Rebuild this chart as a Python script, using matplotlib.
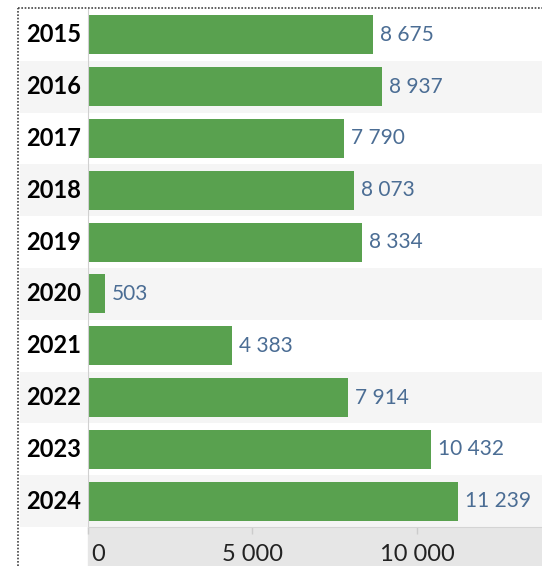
import matplotlib.pyplot as plt
from matplotlib.lines import Line2D
from matplotlib.patches import Rectangle
from matplotlib.transforms import ScaledTranslation

years = ["2015", "2016", "2017", "2018", "2019", "2020", "2021", "2022", "2023", "2024"]
counts = [8675, 8937, 7790, 8073, 8334, 503, 4383, 7914, 10432, 11239]
tick_values = [0, 5000, 10000]


def fmt(v):
    # thousands separated by a space, like the original
    return f"{v:,}".replace(",", " ")


plt.rcParams['font.family'] = ['Lato', 'DejaVu Sans']

W, H = 542, 566
top, bottom = 9, 527
left, label_left = 88, 20
n = len(years)

fig = plt.figure(figsize=(W / 100, H / 100), dpi=100)
ax = fig.add_axes([left / W, (H - bottom) / H, (W - left) / W, (bottom - top) / H])
lab = fig.add_axes([label_left / W, (H - bottom) / H, (left - label_left) / W, (bottom - top) / H])

# grey strip behind the x axis (under the tick labels)
fig.patches.append(Rectangle((left / W, 0), (W - left) / W, (H - bottom) / H,
                             transform=fig.transFigure, color="#e6e6e6", zorder=-1))

# alternating row bands
for i in range(n):
    if i % 2 == 1:
        ax.axhspan(i - 0.5, i + 0.5, color="#f5f5f5", zorder=0, lw=0)
        lab.axhspan(i - 0.5, i + 0.5, color="#f5f5f5", zorder=0, lw=0)

ax.barh(range(n), counts, height=0.75, color="#59a14f", zorder=2)
for i, v in enumerate(counts):
    ax.annotate(fmt(v), (v, i), xytext=(7, 0), textcoords="offset pixels",
                va="center", ha="left", fontsize=15, color="#4b6d94")

ax.set_ylim(n - 0.5, -0.5)
ax.set_xlim(0, 13800)
ax.set_yticks([])
ax.set_xticks(tick_values)
ax.set_xticklabels([fmt(t) for t in tick_values])
ax.tick_params(axis="x", length=5, width=1, color="#cccccc", labelsize=17,
               labelcolor="#222222", pad=7)
first = ax.xaxis.get_major_ticks()[0].label1
first.set_horizontalalignment("left")
first.set_transform(first.get_transform() + ScaledTranslation(3 / 100, 0, fig.dpi_scale_trans))

ax.spines["top"].set_visible(False)
ax.spines["right"].set_visible(False)
ax.spines["left"].set_color("#d0d0d0")
ax.spines["bottom"].set_color("#d4d4d4")

lab.set_xlim(0, left - label_left)
lab.set_ylim(n - 0.5, -0.5)
lab.axis("off")
for i, y in enumerate(years):
    lab.text(6, i, y, va="center", ha="left", fontsize=17, fontweight="bold", color="black")

# dotted frame at top and left
fig.add_artist(Line2D([18 / W, 18 / W], [0, (H - 8) / H], transform=fig.transFigure,
                      ls=(0, (1, 1)), color="#444444", lw=1.2))
fig.add_artist(Line2D([18 / W, 1], [(H - 8) / H, (H - 8) / H], transform=fig.transFigure,
                      ls=(0, (1, 1)), color="#444444", lw=1.2))

fig.savefig("out.png", dpi=100)
